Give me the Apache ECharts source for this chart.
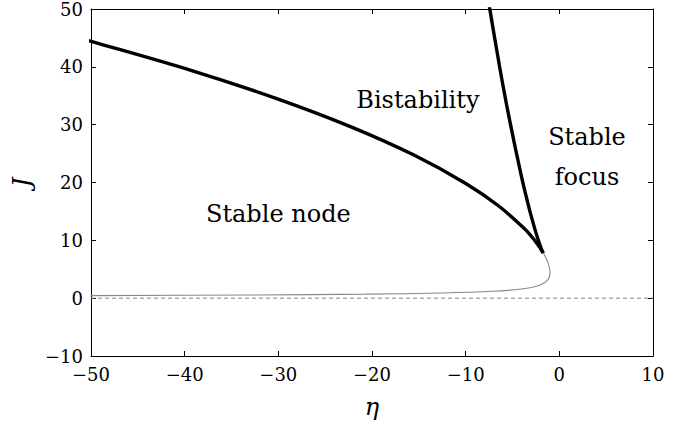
<!DOCTYPE html>
<html>
<head>
<meta charset="utf-8">
<script src="https://cdn.jsdelivr.net/npm/echarts@6/dist/echarts.min.js"></script>
<style>
  html, body { margin: 0; padding: 0; background: #fff; }
  #chart { width: 688px; height: 428px; }
</style>
</head>
<body>
<div id="chart"></div>
<script>
// saddle-node branch, large-r side: [eta, J]
const snUpper = [
    [-1.732, 7.796], [-1.829, 8.091], [-2.054, 8.687], [-2.771, 10.275],
    [-3.764, 12.078], [-6.435, 15.890], [-9.946, 19.790], [-15.470, 24.700],
    [-22.240, 29.624], [-30.251, 34.553], [-39.497, 39.484], [-49.980, 44.417],
    [-50.42, 44.61],
];
// saddle-node branch, small-r side
const snLower = [
    [-1.732, 7.796], [-1.833, 8.177], [-2.048, 9.101], [-2.295, 10.281],
    [-2.665, 12.240], [-3.221, 15.526], [-4.070, 21.225], [-5.419, 31.686],
    [-6.399, 40.233], [-7.698, 52.634],
];
// node / focus boundary (thin grey)
const nodeFocus = [
    [-1.702, 7.797], [-1.668, 7.698], [-1.416, 6.909], [-1.170, 5.922],
    [-1.042, 5.132], [-1.000, 4.441], [-1.058, 3.750], [-1.242, 3.158],
    [-1.666, 2.566], [-2.632, 1.974], [-4.021, 1.579], [-7.072, 1.184],
    [-12.529, 0.888], [-20.678, 0.691], [-32.309, 0.553], [-50.04, 0.444],
];
const zeroLine = [[-50, 0], [10, 0]];
const regionNames = ["Bistability", "Stable node", "Stable\nfocus"];
const xTicks = [-50, -40, -30, -20, -10, 0, 10];
const yTicks = [-10, 0, 10, 20, 30, 40, 50];

const regionAt = [[-15.1, 34.3], [-30.0, 14.5], [2.95, 24.4]];

const serif = "DejaVu Serif";
const fmt = (v) => (v < 0 ? "\u2212" + Math.abs(v) : String(v));

const chart = echarts.init(document.getElementById("chart"), null, { renderer: "svg" });

const axisCommon = {
    type: "value",
    axisLine: { show: true, onZero: false, lineStyle: { color: "#000", width: 1 } },
    axisTick: { show: true, inside: true, length: 5, lineStyle: { color: "#000" } },
    splitLine: { show: false },
};

chart.setOption({
    animation: false,
    backgroundColor: "#fff",
    grid: { left: 91, right: 35, top: 8, bottom: 72 },
    xAxis: [
        {
            ...axisCommon,
            min: xTicks[0], max: xTicks[xTicks.length - 1], interval: 10,
            name: "\u03b7", nameLocation: "middle", nameGap: 39,
            nameTextStyle: { fontFamily: serif, fontStyle: "italic", fontSize: 24, color: "#000" },
            axisLabel: { formatter: fmt, fontFamily: serif, fontSize: 18, color: "#000", margin: 9 },
        },
        {
            ...axisCommon, position: "top",
            min: xTicks[0], max: xTicks[xTicks.length - 1], interval: 10,
            axisLabel: { show: false },
        },
    ],
    yAxis: [
        {
            ...axisCommon,
            min: yTicks[0], max: yTicks[yTicks.length - 1], interval: 10,
            name: "J", nameLocation: "middle", nameGap: 48, nameRotate: 90,
            nameTextStyle: { fontFamily: serif, fontStyle: "italic", fontSize: 24, color: "#000" },
            axisLabel: { formatter: fmt, fontFamily: serif, fontSize: 18, color: "#000", margin: 8 },
        },
        {
            ...axisCommon, position: "right",
            min: yTicks[0], max: yTicks[yTicks.length - 1], interval: 10,
            axisLabel: { show: false },
        },
    ],
    series: [
        {
            type: "line", data: zeroLine, symbol: "none", silent: true,
            lineStyle: { color: "#888", width: 1, type: [4, 3] },
        },
        {
            type: "line", data: nodeFocus, symbol: "none", smooth: 0.3, clip: true,
            lineStyle: { color: "#888", width: 1.1 },
        },
        {
            type: "line", data: snUpper, symbol: "none", smooth: 0.3, clip: true,
            lineStyle: { color: "#000", width: 3.4 },
        },
        {
            type: "line", data: snLower, symbol: "none", smooth: 0.3, clip: true,
            lineStyle: { color: "#000", width: 3.4 },
        },
        {
            type: "scatter", symbolSize: 0, silent: true,
            itemStyle: { opacity: 1, color: "#000" },
            data: regionNames.map((n, i) => ({ name: n, value: regionAt[i] })),
            label: {
                show: true, position: "inside", formatter: (p) => p.name,
                fontFamily: serif, fontSize: 24, color: "#000", textBorderWidth: 0,
                lineHeight: 40, align: "center",
            },
        },
    ],
});
</script>
</body>
</html>
